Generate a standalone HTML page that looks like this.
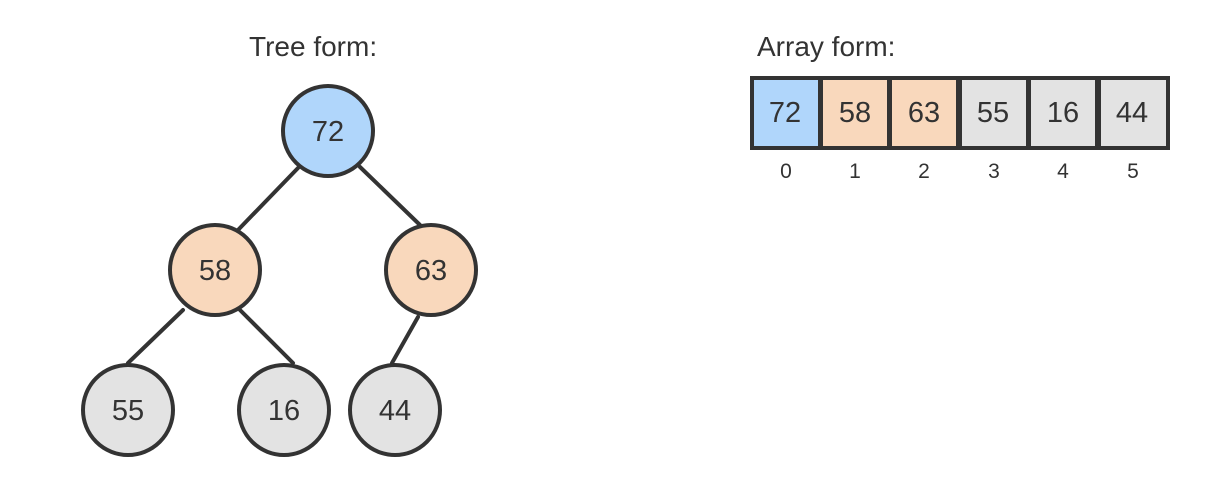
<!DOCTYPE html>
<html><head><meta charset="utf-8"><style>
html,body{margin:0;padding:0;background:#fff;}
svg{display:block;}
text{font-family:"Liberation Sans",Arial,sans-serif;fill:#333;}
</style></head><body>
<svg width="1212" height="494" viewBox="0 0 1212 494" xmlns="http://www.w3.org/2000/svg">
<text x="249" y="56" font-size="28">Tree form:</text>
<text x="757" y="56" font-size="28">Array form:</text>
<g stroke="#333" stroke-width="4" stroke-linecap="round">
<line x1="298" y1="168" x2="238" y2="230"/>
<line x1="360" y1="167" x2="420" y2="225"/>
<line x1="183" y1="310" x2="128" y2="363"/>
<line x1="240" y1="310" x2="293" y2="363"/>
<line x1="418" y1="317" x2="392" y2="363"/>
</g>
<g stroke="#333" stroke-width="4">
<circle cx="328" cy="131" r="45" fill="#b0d6fb"/>
<circle cx="215" cy="270" r="45" fill="#f9d8bc"/>
<circle cx="431" cy="270" r="45" fill="#f9d8bc"/>
<circle cx="128" cy="410" r="45" fill="#e3e3e3"/>
<circle cx="284" cy="410" r="45" fill="#e3e3e3"/>
<circle cx="395" cy="410" r="45" fill="#e3e3e3"/>
</g>
<g font-size="29" text-anchor="middle">
<text x="328" y="141">72</text>
<text x="215" y="280">58</text>
<text x="431" y="280">63</text>
<text x="128" y="420">55</text>
<text x="284" y="420">16</text>
<text x="395" y="420">44</text>
</g>
<g stroke="#333" stroke-width="4">
<rect x="752" y="78" width="68" height="70" fill="#b0d6fb"/>
<rect x="821" y="78" width="68" height="70" fill="#f9d8bc"/>
<rect x="890" y="78" width="68" height="70" fill="#f9d8bc"/>
<rect x="960" y="78" width="68" height="70" fill="#e3e3e3"/>
<rect x="1029" y="78" width="68" height="70" fill="#e3e3e3"/>
<rect x="1099" y="78" width="69" height="70" fill="#e3e3e3"/>
</g>
<g font-size="29" text-anchor="middle">
<text x="785" y="122">72</text>
<text x="855" y="122">58</text>
<text x="924" y="122">63</text>
<text x="993" y="122">55</text>
<text x="1063" y="122">16</text>
<text x="1132" y="122">44</text>
</g>
<g font-size="21" text-anchor="middle">
<text x="786" y="178">0</text>
<text x="855" y="178">1</text>
<text x="924" y="178">2</text>
<text x="994" y="178">3</text>
<text x="1063" y="178">4</text>
<text x="1133" y="178">5</text>
</g>
</svg>
</body></html>
